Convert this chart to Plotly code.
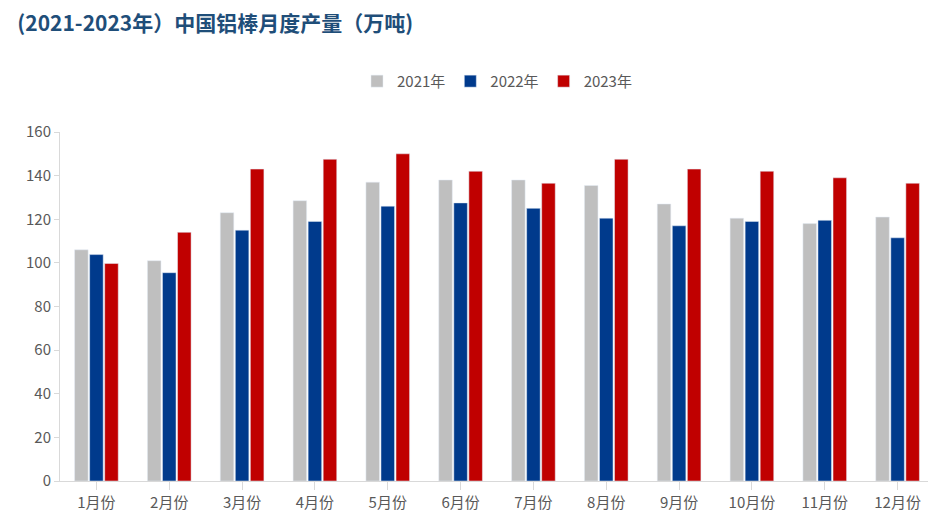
import plotly.graph_objects as go

months = ['1月份', '2月份', '3月份', '4月份', '5月份', '6月份',
          '7月份', '8月份', '9月份', '10月份', '11月份', '12月份']
y2021 = [106, 101, 123, 128.5, 137, 138, 138, 135.5, 127, 120.5, 118, 121]
y2022 = [103.8, 95.5, 115, 119, 126, 127.5, 125, 120.5, 117, 119, 119.5, 111.5]
y2023 = [99.7, 114, 143, 147.5, 150, 142, 136.5, 147.5, 143, 142, 139, 136.5]

series = [('2021年', y2021, '#BFBFBF'), ('2022年', y2022, '#003A8C'), ('2023年', y2023, '#C00000')]

fig = go.Figure()
for name, vals, col in series:
    fig.add_trace(go.Bar(name=name, x=months, y=vals, marker_color=col))

fig.update_layout(
    width=936, height=527,
    paper_bgcolor='white', plot_bgcolor='white',
    font=dict(family='Noto Sans CJK SC', size=15, color='#595959'),
    title=dict(text='<b>(2021-2023年）中国铝棒月度产量（万吨)</b>', x=0.01, y=0.985,
               yanchor='top', font=dict(size=21, color='#1F4E79')),
    barmode='group', bargap=0.38, bargroupgap=0.1,
    margin=dict(l=52, r=10, t=124, b=54),
    legend=dict(orientation='h', x=0.5, xanchor='center', y=1.145, yanchor='middle',
                itemwidth=30, font=dict(size=15, color='#595959')),
    xaxis=dict(showline=True, linecolor='#D9D9D9', ticks='outside', tickcolor='#D9D9D9',
               ticklen=8, showgrid=False),
    yaxis=dict(range=[0, 160], dtick=20, showgrid=False, showline=True,
               linecolor='#D9D9D9', ticks='outside', tickcolor='#D9D9D9', ticklen=5),
)
fig.write_html('out.html')
